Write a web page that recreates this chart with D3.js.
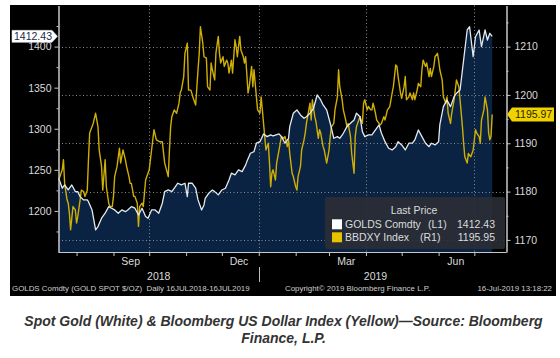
<!DOCTYPE html>
<html><head><meta charset="utf-8">
<script src="https://cdn.jsdelivr.net/npm/d3@7"></script>
<style>body{margin:0;background:#fff}svg{display:block}</style>
</head><body><svg id="c" width="560" height="358"></svg>
<script>
const goldDates = [
"2018-07-17","2018-07-20","2018-07-22","2018-07-25","2018-07-28","2018-07-31","2018-08-02","2018-08-04","2018-08-07","2018-08-10",
"2018-08-11","2018-08-14","2018-08-15","2018-08-17","2018-08-19","2018-08-22","2018-08-25","2018-08-28","2018-08-30","2018-09-02",
"2018-09-05","2018-09-08","2018-09-11","2018-09-13","2018-09-16","2018-09-19","2018-09-22","2018-09-25","2018-09-28","2018-09-30",
"2018-10-03","2018-10-06","2018-10-09","2018-10-12","2018-10-14","2018-10-17","2018-10-20","2018-10-23","2018-10-25","2018-10-28",
"2018-10-31","2018-11-02","2018-11-03","2018-11-06","2018-11-09","2018-11-11","2018-11-14","2018-11-16","2018-11-17","2018-11-20",
"2018-11-23","2018-11-25","2018-11-28","2018-12-01","2018-12-04","2018-12-07","2018-12-09","2018-12-12","2018-12-15","2018-12-18",
"2018-12-21","2018-12-22","2018-12-25","2018-12-28","2018-12-30","2019-01-02","2019-01-05","2019-01-08","2019-01-11","2019-01-13",
"2019-01-18","2019-01-20","2019-01-23","2019-01-26","2019-01-27","2019-01-30","2019-02-02","2019-02-05","2019-02-08","2019-02-10",
"2019-02-13","2019-02-16","2019-02-19","2019-02-22","2019-02-24","2019-02-27","2019-03-02","2019-03-05","2019-03-08","2019-03-10",
"2019-03-13","2019-03-16","2019-03-19","2019-03-22","2019-03-24","2019-03-27","2019-03-29","2019-03-31","2019-04-03","2019-04-06",
"2019-04-09","2019-04-12","2019-04-14","2019-04-17","2019-04-20","2019-04-23","2019-04-26","2019-04-28","2019-05-01","2019-05-04",
"2019-05-07","2019-05-10","2019-05-12","2019-05-15","2019-05-18","2019-05-21","2019-05-24","2019-05-26","2019-05-29","2019-06-01",
"2019-06-02","2019-06-05","2019-06-08","2019-06-11","2019-06-14","2019-06-16","2019-06-19","2019-06-22","2019-06-25","2019-06-27",
"2019-06-28","2019-06-30","2019-07-02","2019-07-05","2019-07-07","2019-07-10","2019-07-12","2019-07-14","2019-07-16"];
const goldValues = [
1239.8,1227.6,1231.6,1225.5,1231.6,1223.5,1223.5,1217.4,1213.4,1213.4,
1211.3,1201.2,1193.1,1176.9,1180.9,1191.1,1197.2,1205.2,1203.6,1201.2,
1197.2,1201.2,1199.1,1201.2,1205.2,1203.3,1195.1,1203.3,1193.1,1191.1,
1201.2,1201.2,1197.2,1209.4,1223.5,1225.5,1223.5,1229.6,1233.7,1231.6,
1233.7,1217.4,1233.7,1233.7,1227.6,1213.4,1201.2,1207.3,1215.4,1221.5,
1225.5,1223.5,1219.5,1225.5,1227.6,1237.7,1245.9,1243.8,1249.9,1247.8,
1256.0,1260.0,1270.2,1272.1,1282.4,1284.3,1293.7,1290.4,1292.5,1291.2,
1293.7,1290.4,1282.4,1288.4,1302.6,1318.9,1322.9,1316.8,1312.8,1314.7,
1318.9,1324.9,1341.1,1335.0,1329.0,1322.9,1306.7,1288.4,1290.4,1288.4,
1294.5,1302.6,1306.7,1310.7,1318.9,1314.7,1296.5,1290.4,1292.5,1292.5,
1298.5,1304.6,1294.5,1284.3,1276.3,1274.2,1278.2,1284.3,1280.3,1274.2,
1282.4,1282.4,1286.4,1298.5,1290.4,1282.4,1278.2,1282.4,1280.3,1284.3,
1304.6,1326.9,1335.0,1326.9,1339.0,1343.2,1347.2,1383.7,1420.2,1424.2,
1412.0,1387.7,1412.0,1420.2,1399.9,1420.2,1408.0,1416.2,1412.43];
const dxyDates = [
"2018-07-17","2018-07-20","2018-07-21","2018-07-22","2018-07-24","2018-07-25","2018-07-26","2018-07-27","2018-07-29","2018-07-31",
"2018-08-01","2018-08-02","2018-08-04","2018-08-05","2018-08-07","2018-08-08","2018-08-10","2018-08-11","2018-08-12","2018-08-15",
"2018-08-17","2018-08-19","2018-08-20","2018-08-22","2018-08-23","2018-08-25","2018-08-26","2018-08-28","2018-08-29","2018-08-31",
"2018-09-01","2018-09-02","2018-09-04","2018-09-06","2018-09-07","2018-09-09","2018-09-11","2018-09-12","2018-09-14","2018-09-15",
"2018-09-16","2018-09-18","2018-09-19","2018-09-21","2018-09-22","2018-09-23","2018-09-25","2018-09-26","2018-09-28","2018-09-29",
"2018-10-01","2018-10-03","2018-10-05","2018-10-07","2018-10-10","2018-10-12","2018-10-14","2018-10-17","2018-10-18","2018-10-19",
"2018-10-20","2018-10-22","2018-10-24","2018-10-26","2018-10-27","2018-10-28","2018-10-30","2018-10-31","2018-11-02","2018-11-03",
"2018-11-05","2018-11-07","2018-11-09","2018-11-11","2018-11-12","2018-11-13","2018-11-15","2018-11-16","2018-11-18","2018-11-19",
"2018-11-21","2018-11-22","2018-11-23","2018-11-25","2018-11-26","2018-11-28","2018-11-29","2018-11-30","2018-12-02","2018-12-03",
"2018-12-05","2018-12-06","2018-12-07","2018-12-09","2018-12-10","2018-12-12","2018-12-13","2018-12-14","2018-12-16","2018-12-17",
"2018-12-19","2018-12-20","2018-12-21","2018-12-23","2018-12-24","2018-12-26","2018-12-27","2018-12-28","2018-12-30","2018-12-31",
"2019-01-02","2019-01-03","2019-01-04","2019-01-06","2019-01-07","2019-01-09","2019-01-10","2019-01-11","2019-01-12","2019-01-13",
"2019-01-15","2019-01-16","2019-01-18","2019-01-19","2019-01-20","2019-01-22","2019-01-23","2019-01-25","2019-01-26","2019-01-27",
"2019-01-29","2019-01-30","2019-02-01","2019-02-02","2019-02-03","2019-02-05","2019-02-06","2019-02-08","2019-02-09","2019-02-10",
"2019-02-12","2019-02-13","2019-02-14","2019-02-15","2019-02-17","2019-02-18","2019-02-20","2019-02-21","2019-02-22","2019-02-24",
"2019-02-25","2019-02-27","2019-03-01","2019-03-02","2019-03-03","2019-03-05","2019-03-06","2019-03-08","2019-03-09","2019-03-10",
"2019-03-12","2019-03-13","2019-03-15","2019-03-16","2019-03-17","2019-03-19","2019-03-20","2019-03-22","2019-03-23","2019-03-24",
"2019-03-26","2019-03-27","2019-03-29","2019-03-30","2019-03-31","2019-04-02","2019-04-03","2019-04-05","2019-04-06","2019-04-07",
"2019-04-09","2019-04-10","2019-04-12","2019-04-13","2019-04-14","2019-04-16","2019-04-17","2019-04-19","2019-04-20","2019-04-21",
"2019-04-23","2019-04-24","2019-04-26","2019-04-27","2019-04-28","2019-04-30","2019-05-01","2019-05-03","2019-05-04","2019-05-05",
"2019-05-07","2019-05-08","2019-05-10","2019-05-11","2019-05-12","2019-05-14","2019-05-15","2019-05-17","2019-05-18","2019-05-19",
"2019-05-21","2019-05-22","2019-05-24","2019-05-25","2019-05-26","2019-05-28","2019-05-29","2019-05-31","2019-06-01","2019-06-02",
"2019-06-04","2019-06-05","2019-06-07","2019-06-08","2019-06-09","2019-06-11","2019-06-12","2019-06-14","2019-06-15","2019-06-16",
"2019-06-18","2019-06-19","2019-06-21","2019-06-22","2019-06-23","2019-06-25","2019-06-26","2019-06-28","2019-06-29","2019-06-30",
"2019-07-02","2019-07-03","2019-07-05","2019-07-06","2019-07-07","2019-07-09","2019-07-10","2019-07-12","2019-07-13","2019-07-14",
"2019-07-15","2019-07-16"];
const dxyValues = [
1182.4,1184.5,1186.6,1181.7,1178.3,1177.6,1175.5,1172.1,1176.9,1176.2,
1173.5,1174.8,1178.3,1180.3,1180.0,1179.0,1180.3,1186.6,1192.1,1194.1,
1196.2,1193.4,1188.6,1185.2,1180.3,1186.6,1181.0,1177.6,1176.9,1176.9,
1179.0,1183.1,1185.2,1189.0,1185.9,1188.6,1186.6,1185.2,1183.1,1181.7,
1181.7,1179.0,1179.0,1177.6,1172.8,1176.9,1177.6,1176.9,1182.4,1183.1,
1184.5,1188.6,1192.8,1190.7,1190.3,1190.3,1185.9,1183.1,1188.6,1193.4,
1195.5,1196.9,1196.2,1198.3,1200.4,1201.0,1203.8,1208.6,1210.7,1201.0,
1201.0,1199.3,1197.9,1205.2,1208.6,1214.1,1210.7,1207.9,1207.6,1201.7,
1201.0,1206.6,1205.2,1203.1,1208.6,1212.1,1208.6,1206.6,1207.9,1205.9,
1207.2,1206.6,1204.5,1207.2,1204.5,1211.4,1210.0,1207.9,1212.1,1209.3,
1207.9,1206.6,1207.9,1200.4,1201.7,1205.9,1201.7,1205.2,1199.6,1196.9,
1196.2,1199.6,1196.9,1191.4,1188.6,1190.0,1185.9,1181.0,1183.8,1184.5,
1182.4,1185.9,1188.6,1190.0,1191.4,1191.0,1191.4,1189.3,1190.7,1187.9,
1183.8,1183.1,1181.0,1180.3,1183.1,1185.2,1188.6,1190.7,1192.1,1194.1,
1196.9,1198.3,1194.8,1199.0,1195.5,1194.5,1191.0,1192.8,1192.1,1189.3,
1188.6,1185.9,1188.6,1191.4,1193.4,1194.1,1196.9,1199.6,1205.2,1201.7,
1199.0,1196.9,1194.8,1193.4,1194.1,1191.4,1187.9,1183.8,1191.4,1193.4,
1194.8,1195.5,1194.1,1198.3,1199.0,1196.9,1197.6,1196.9,1196.9,1198.3,
1196.2,1194.8,1194.1,1193.8,1194.1,1195.5,1194.8,1196.9,1197.2,1197.6,
1200.4,1201.7,1206.2,1205.9,1203.8,1200.4,1199.3,1201.7,1203.8,1199.0,
1199.6,1200.4,1199.0,1200.4,1199.0,1201.0,1202.4,1201.7,1205.2,1207.2,
1205.9,1206.6,1203.8,1205.5,1203.8,1205.9,1207.9,1208.6,1207.2,1205.2,
1203.1,1199.6,1198.3,1199.6,1196.2,1194.1,1196.2,1199.0,1201.0,1203.1,
1201.7,1199.0,1193.4,1190.0,1187.2,1185.9,1187.9,1187.2,1187.9,1188.6,
1192.8,1192.1,1191.4,1190.0,1194.8,1196.9,1199.6,1196.9,1192.1,1190.7,
1191.4,1195.95];

const xDomain = ["2018-07-16", "2019-07-28"];
const leftDomain = [1150, 1450];
const rightDomain = [1167.5, 1218.5];
const leftTicks = [1200, 1250, 1300, 1350, 1400];
const leftMinorTicks = [1175, 1225, 1275, 1325, 1375, 1425];
const rightTicks = [1170, 1180, 1190, 1200, 1210];
const rightMinorTicks = [1175, 1185, 1195, 1205, 1215];
const monthTickDates = ["2018-08-01","2018-09-01","2018-10-01","2018-11-01","2018-12-01","2019-01-01",
  "2019-02-01","2019-03-01","2019-04-01","2019-05-01","2019-06-01","2019-07-01"];
const monthLabelDates = ["2018-09-15","2018-12-15","2019-03-15","2019-06-15"];
const quarterDates = ["2018-10-01","2019-01-01","2019-04-01","2019-07-01"];
const yearLabels = ["2018", "2019"];
const yearBreak = "2019-01-01";
const legendTitle = "Last Price";
const seriesNames = ["GOLDS Comdty", "BBDXY Index"];
const seriesAxes = ["(L1)", "(R1)"];
const lastPrices = ["1412.43", "1195.95"];
const goldTagLabel = "1412.43";
const dxyTagValue = 1195.97;
const dxyTagLabel = "1195.97";
const footerTexts = ["GOLDS Comdty (GOLD SPOT $/OZ)  Daily 16JUL2018-16JUL2019",
  "Copyright\u00A9 2019 Bloomberg Finance L.P.", "16-Jul-2019 13:18:22"];
const captionLines = ["Spot Gold (White) & Bloomberg US Dollar Index (Yellow)\u2014Source: Bloomberg",
  "Finance, L.P."];

const parse = d3.timeParse("%Y-%m-%d");
const gold = goldDates.map((d, i) => ({date: parse(d), v: goldValues[i]}));
const dxy = dxyDates.map((d, i) => ({date: parse(d), v: dxyValues[i]}));

const L = 58.5, R = 506.5, T = 5.5, B = 252;
const x = d3.scaleTime().domain(xDomain.map(parse)).range([57.5, R]);
const yL = d3.scaleLinear().domain(leftDomain).range([B, T]);
const yR = d3.scaleLinear().domain(rightDomain).range([B, T]);

const svg = d3.select("#c");
const FONT = "'Liberation Sans', Arial, sans-serif";
svg.append("rect").attr("width", 560).attr("height", 358).attr("fill", "#fff");
svg.append("rect").attr("x", 10).attr("y", 5).attr("width", 546).attr("height", 291).attr("fill", "#000");

// area
svg.append("path").datum(gold)
  .attr("fill", "#0b2342")
  .attr("d", d3.area().x(d => x(d.date)).y0(B).y1(d => yL(d.v)));

// grid
const grid = svg.append("g").attr("stroke", "#8a8a8a").attr("stroke-width", 1).attr("stroke-dasharray", "1,2.5");
grid.selectAll("line.h").data(rightTicks).enter().append("line")
  .attr("x1", L).attr("x2", R).attr("y1", d => Math.round(yR(d)) + 0.5).attr("y2", d => Math.round(yR(d)) + 0.5);
grid.selectAll("line.v").data(quarterDates).enter().append("line")
  .attr("x1", d => Math.round(x(parse(d))) + 0.5).attr("x2", d => Math.round(x(parse(d))) + 0.5)
  .attr("y1", T).attr("y2", B);

// lines
svg.append("path").datum(dxy).attr("fill", "none").attr("stroke", "#cfae06").attr("stroke-width", 1.4)
  .attr("stroke-linejoin", "round")
  .attr("d", d3.line().x(d => x(d.date)).y(d => yR(d.v)));
svg.append("path").datum(gold).attr("fill", "none").attr("stroke", "#e3e9f0").attr("stroke-width", 1.3)
  .attr("stroke-linejoin", "round")
  .attr("d", d3.line().x(d => x(d.date)).y(d => yL(d.v)));

function styleAxis(g) {
  g.selectAll("path.domain").attr("stroke", "#c8c8c8");
  g.selectAll(".tick line").attr("stroke", "#c8c8c8");
  g.selectAll(".tick text").attr("fill", "#dadada").style("font-family", FONT).style("font-size", "10.5px");
}
// left axis
const gl = svg.append("g").attr("transform", `translate(${L},0)`)
  .call(d3.axisLeft(yL).tickValues(leftTicks).tickSize(4).tickSizeOuter(0).tickPadding(3).tickFormat(d3.format("d")));
styleAxis(gl);
const glm = svg.append("g").attr("transform", `translate(${L},0)`)
  .call(d3.axisLeft(yL).tickValues(leftMinorTicks).tickSize(2).tickSizeOuter(0).tickFormat(""));
styleAxis(glm);
// right axis
const gr = svg.append("g").attr("transform", `translate(${R},0)`)
  .call(d3.axisRight(yR).tickValues(rightTicks).tickSize(4).tickSizeOuter(0).tickPadding(4).tickFormat(d3.format("d")));
styleAxis(gr);
const grm = svg.append("g").attr("transform", `translate(${R},0)`)
  .call(d3.axisRight(yR).tickValues(rightMinorTicks).tickSize(2).tickSizeOuter(0).tickFormat(""));
styleAxis(grm);
// bottom axis
const gb = svg.append("g").attr("transform", `translate(0,${B})`)
  .call(d3.axisBottom(x).tickValues(monthTickDates.map(parse)).tickSize(4).tickSizeOuter(0).tickFormat(""));
styleAxis(gb);
gb.select("path.domain").attr("d", `M${L},0.5H${R}`);
const gbl = svg.append("g").attr("transform", `translate(0,${B})`)
  .call(d3.axisBottom(x).tickValues(monthLabelDates.map(parse)).tickSize(0).tickPadding(6).tickFormat(d3.timeFormat("%b")));
styleAxis(gbl);
gbl.select("path.domain").remove();

// years
const xStart = x(gold[0].date), xBreak = x(parse(yearBreak)), xEnd = x(gold[gold.length - 1].date);
const yearPos = [(xStart + xBreak) / 2, (xBreak + xEnd) / 2];
svg.selectAll("text.year").data(yearLabels).enter().append("text")
  .attr("x", (d, i) => yearPos[i]).attr("y", 280).attr("text-anchor", "middle")
  .attr("fill", "#dadada").style("font-family", FONT).style("font-size", "10.5px").text(d => d);
svg.append("line").attr("x1", Math.round(xBreak) + 0.5).attr("x2", Math.round(xBreak) + 0.5)
  .attr("y1", 267).attr("y2", 282).attr("stroke", "#bbb");

// legend
const lg = svg.append("g");
lg.append("rect").attr("x", 325).attr("y", 197).attr("width", 180).attr("height", 52).attr("rx", 2)
  .attr("fill", "#2a2e35").attr("fill-opacity", 0.9);
lg.append("text").attr("x", 414).attr("y", 214).attr("text-anchor", "middle").attr("fill", "#dcdcdc")
  .style("font-family", FONT).style("font-size", "10.5px").text(legendTitle);
const swatchColors = ["#ffffff", "#e6c200"];
const rowY = [228.3, 241.3];
const axisX = [428, 420];
seriesNames.forEach((n, i) => {
  lg.append("rect").attr("x", 332).attr("y", rowY[i] - 9).attr("width", 10).attr("height", 10).attr("fill", swatchColors[i]);
  lg.append("text").attr("x", 345).attr("y", rowY[i]).attr("fill", "#dcdcdc").style("font-family", FONT).style("font-size", "10.5px").text(n);
  lg.append("text").attr("x", axisX[i]).attr("y", rowY[i]).attr("fill", "#dcdcdc").style("font-family", FONT).style("font-size", "10.5px").text(seriesAxes[i]);
  lg.append("text").attr("x", 495).attr("y", rowY[i]).attr("text-anchor", "end").attr("fill", "#dcdcdc").style("font-family", FONT).style("font-size", "10.5px").text(lastPrices[i]);
});

// last price tags
const gy = yL(goldValues[goldValues.length - 1]);
svg.append("path").attr("d", `M12,${gy-6}H52L57.5,${gy}L52,${gy+6}H12Z`).attr("fill", "#fff").attr("stroke", "#d0d8e0").attr("stroke-width", 0.6);
svg.append("text").attr("x", 33).attr("y", gy + 4).attr("text-anchor", "middle").attr("fill", "#1b2a48")
  .style("font-family", FONT).style("font-size", "10.5px").text(goldTagLabel);
const dy = yR(dxyTagValue);
svg.append("path").attr("d", `M507,${dy}L512,${dy-7}H554V${dy+7}H512Z`).attr("fill", "#f0d200");
svg.append("text").attr("x", 515).attr("y", dy + 4).attr("fill", "#2a2600")
  .style("font-family", FONT).style("font-size", "10.5px").text(dxyTagLabel);

// footer
const ft = {size: "7.9px", fill: "#cfcfcf"};
svg.append("text").attr("x", 12).attr("y", 291).attr("fill", ft.fill).style("font-family", FONT).style("font-size", ft.size).style("white-space", "pre").text(footerTexts[0]);
svg.append("text").attr("x", 285).attr("y", 291).attr("fill", ft.fill).style("font-family", FONT).style("font-size", ft.size).text(footerTexts[1]);
svg.append("text").attr("x", 552).attr("y", 291).attr("text-anchor", "end").attr("fill", ft.fill).style("font-family", FONT).style("font-size", ft.size).text(footerTexts[2]);

// caption, sized so the first line spans the reference width
const cap = svg.append("g");
const capTexts = captionLines.map((t, i) => cap.append("text").attr("x", 283.5).attr("y", 326 + i * 17)
    .attr("text-anchor", "middle").attr("fill", "#333").style("font-family", FONT)
    .style("font-weight", "bold").style("font-style", "italic").style("font-size", "12.5px").text(t));
const w0 = capTexts[0].node().getComputedTextLength();
const capSize = Math.min(14, 12.5 * 530 / w0);
capTexts.forEach(t => t.style("font-size", capSize + "px"));
</script></body></html>
